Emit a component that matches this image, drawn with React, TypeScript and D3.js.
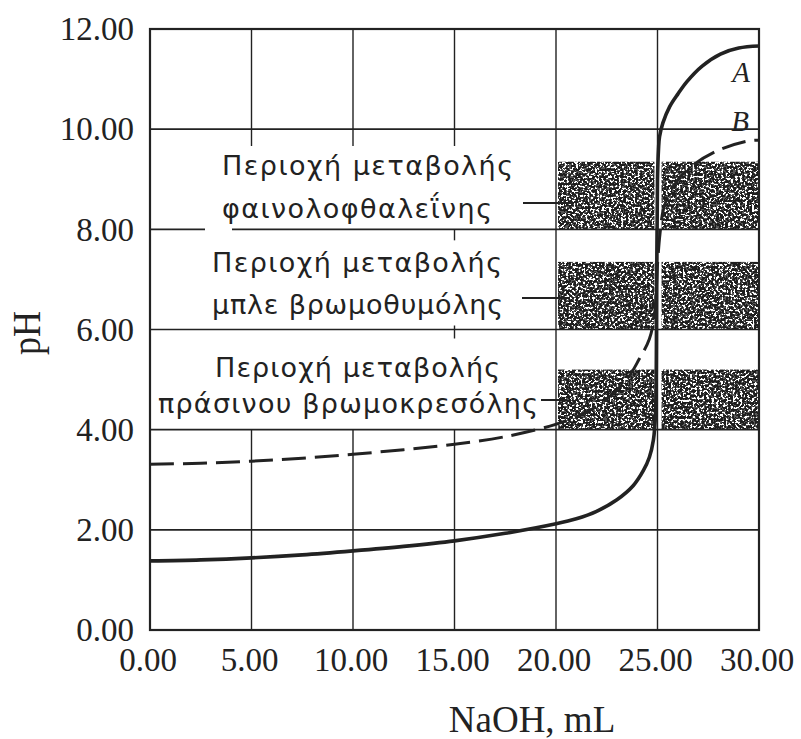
import React from "react";
import * as d3 from "d3";

// ---------- data ----------
const X_TICKS = [0, 5, 10, 15, 20, 25, 30];
const Y_TICKS = [0, 2, 4, 6, 8, 10, 12];

// Curve A (solid) – strong acid titration
const volumeA = [0, 2.5, 5, 7.5, 10, 12.5, 15, 17.5, 20, 21, 22, 23, 23.8, 24.3, 24.6, 24.8, 24.9, 24.96, 25.0, 25.05, 25.1, 25.27, 25.6, 26.0, 26.45, 27.2, 28.1, 29, 30];
const phA = [1.38, 1.4, 1.44, 1.5, 1.58, 1.67, 1.78, 1.93, 2.12, 2.22, 2.37, 2.6, 2.88, 3.18, 3.45, 3.8, 4.3, 7.0, 9.0, 9.6, 9.85, 10.13, 10.45, 10.7, 10.95, 11.26, 11.5, 11.62, 11.66];

// Curve B (dashed) – weak acid titration
const volumeB = [0, 2.5, 5, 7.5, 10, 12.5, 15, 17.5, 19.7, 20.3, 21.5, 22.3, 23.5, 24.1, 24.6, 24.85, 25.0, 25.12, 25.3, 25.7, 26.5, 27.9, 29.4, 30];
const phB = [3.31, 3.33, 3.37, 3.43, 3.51, 3.6, 3.71, 3.86, 4.07, 4.15, 4.35, 4.55, 5.01, 5.41, 5.81, 6.3, 7.3, 7.9, 8.41, 8.8, 9.2, 9.56, 9.76, 9.78];

const curveNames = ["A", "B"];

const regionPrefix = "Περιοχή μεταβολής";
const indicatorNames = ["φαινολοφθαλεΐνης", "μπλε βρωμοθυμόλης", "πράσινου βρωμοκρεσόλης"];
const indicatorLow = [8.0, 6.0, 4.0];
const indicatorHigh = [9.35, 7.35, 5.2];
// shaded columns (mL), split around the equivalence line
const shadeLeft = [20, 24.85];
const shadeRight = [25.2, 30];

const xTitle = "NaOH, mL";
const yTitle = "pH";

// ---------- layout ----------
const W = 801;
const H = 739;
const PLOT = { left: 150, right: 759, top: 29, bottom: 630 };
const INK = "#222";

const labelLayout = [
  { x1: 222, y1: 175, len1: 291, x2: 222, y2: 218, len2: 270, ly: 203, lx1: 523, lx2: 572 },
  { x1: 212, y1: 272, len1: 290, x2: 212, y2: 314, len2: 291, ly: 298, lx1: 522, lx2: 570 },
  { x1: 215, y1: 377, len1: 285, x2: 158, y2: 413, len2: 380, ly: 400, lx1: 541, lx2: 567 },
];
const curveLabelLayout = [
  { x: 741, y: 82 },
  { x: 740, y: 131 },
];

export default function App() {
  const x = d3.scaleLinear().domain([0, 30]).range([PLOT.left, PLOT.right]);
  const y = d3.scaleLinear().domain([0, 12]).range([PLOT.bottom, PLOT.top]);

  const line = d3
    .line<[number, number]>()
    .x((d) => x(d[0]))
    .y((d) => y(d[1]))
    .curve(d3.curveCatmullRom.alpha(0.5));

  const pathA = line(volumeA.map((v, i) => [v, phA[i]] as [number, number])) || "";
  const pathB = line(volumeB.map((v, i) => [v, phB[i]] as [number, number])) || "";

  const textTop = 146; // vertical grid hidden below this (text area)
  const maskedX = [5, 10, 15];

  return (
    <svg
      width={W}
      height={H}
      viewBox={`0 0 ${W} ${H}`}
      style={{ position: "absolute", left: 0, top: 0, background: "#fff" }}
    >
      <defs>
        <filter id="stip" x="0%" y="0%" width="100%" height="100%" colorInterpolationFilters="sRGB">
          <feTurbulence type="fractalNoise" baseFrequency="0.42" numOctaves={3} seed={11} result="noise" />
          <feColorMatrix
            in="noise"
            type="matrix"
            values="0 0 0 0 0  0 0 0 0 0  0 0 0 0 0  1 0 0 0 0"
            result="ra"
          />
          <feComponentTransfer in="ra" result="mask">
            <feFuncA type="discrete" tableValues="1 1 1 1 1 0.75 0 0 0 0" />
          </feComponentTransfer>
          <feComposite in="SourceGraphic" in2="mask" operator="in" />
        </filter>
      </defs>
      <rect x={0} y={0} width={W} height={H} fill="#fff" />

      {/* indicator shaded ranges */}
      {indicatorLow.map((lo, i) => (
        <g key={"sh" + i}>
          <rect
            x={x(shadeLeft[0]) + 2}
            y={y(indicatorHigh[i])}
            width={x(shadeLeft[1]) - x(shadeLeft[0]) - 2}
            height={y(lo) - y(indicatorHigh[i])}
            fill="#1e1e1e"
            filter="url(#stip)"
          />
          <rect
            x={x(shadeRight[0])}
            y={y(indicatorHigh[i])}
            width={x(shadeRight[1]) - x(shadeRight[0]) - 1}
            height={y(lo) - y(indicatorHigh[i])}
            fill="#1e1e1e"
            filter="url(#stip)"
          />
        </g>
      ))}

      {/* horizontal grid */}
      {Y_TICKS.filter((t) => t > 0 && t < 12).map((t) =>
        t === 8 ? (
          <g key={"h" + t}>
            <line x1={PLOT.left} x2={205} y1={y(t)} y2={y(t)} stroke={INK} strokeWidth={1.7} />
            <line x1={232} x2={PLOT.right} y1={y(t)} y2={y(t)} stroke={INK} strokeWidth={1.7} />
          </g>
        ) : (
          <line key={"h" + t} x1={PLOT.left} x2={PLOT.right} y1={y(t)} y2={y(t)} stroke={INK} strokeWidth={1.7} />
        )
      )}

      {/* vertical grid */}
      {X_TICKS.filter((t) => t > 0 && t < 30).map((t) =>
        maskedX.includes(t) ? (
          <g key={"v" + t}>
            <line x1={x(t)} x2={x(t)} y1={PLOT.top} y2={textTop} stroke={INK} strokeWidth={1.4} />
            <line x1={x(t)} x2={x(t)} y1={y(4)} y2={PLOT.bottom} stroke={INK} strokeWidth={1.4} />
          </g>
        ) : (
          <line key={"v" + t} x1={x(t)} x2={x(t)} y1={PLOT.top} y2={PLOT.bottom} stroke={INK} strokeWidth={1.4} />
        )
      )}
      <line x1={x(15)} x2={x(15)} y1={y(8)} y2={y(8) + 11} stroke={INK} strokeWidth={1.4} />
      <line x1={x(15)} x2={x(15)} y1={y(6) - 4} y2={y(6) + 9} stroke={INK} strokeWidth={1.4} />

      {/* frame */}
      <rect
        x={PLOT.left}
        y={PLOT.top}
        width={PLOT.right - PLOT.left}
        height={PLOT.bottom - PLOT.top}
        fill="none"
        stroke={INK}
        strokeWidth={2.2}
      />

      {/* curves */}
      <path d={pathB} fill="none" stroke={INK} strokeWidth={3} strokeDasharray="24 9" />
      <path d={pathA} fill="none" stroke={INK} strokeWidth={3.6} strokeLinejoin="round" />

      {/* curve labels */}
      {curveNames.map((n, i) => (
        <text
          key={n}
          x={curveLabelLayout[i].x}
          y={curveLabelLayout[i].y}
          textAnchor="middle"
          fontFamily="'Liberation Serif', serif"
          fontStyle="italic"
          fontSize={29}
          fill={INK}
        >
          {n}
        </text>
      ))}

      {/* indicator labels */}
      {indicatorNames.map((name, i) => {
        const L = labelLayout[i];
        return (
          <g key={"lab" + i} fontFamily="'DejaVu Sans', sans-serif" fontSize={27} fill={INK}>
            <text x={L.x1} y={L.y1} textLength={L.len1} lengthAdjust="spacing">
              {regionPrefix}
            </text>
            <text x={L.x2} y={L.y2} textLength={L.len2} lengthAdjust="spacing">
              {name}
            </text>
            <line x1={L.lx1} x2={L.lx2} y1={L.ly} y2={L.ly} stroke={INK} strokeWidth={2} />
          </g>
        );
      })}

      {/* y tick labels */}
      {Y_TICKS.map((t) => (
        <text
          key={"yt" + t}
          x={134}
          y={y(t)}
          dy="0.34em"
          textAnchor="end"
          fontFamily="'Liberation Serif', serif"
          fontSize={33}
          fill={INK}
        >
          {t.toFixed(2)}
        </text>
      ))}

      {/* x tick labels */}
      {X_TICKS.map((t) => (
        <text
          key={"xt" + t}
          x={x(t) - 2}
          y={671}
          textAnchor="middle"
          fontFamily="'Liberation Serif', serif"
          fontSize={33}
          fill={INK}
        >
          {t.toFixed(2)}
        </text>
      ))}

      {/* axis titles */}
      <text
        x={532}
        y={732}
        textAnchor="middle"
        fontFamily="'Liberation Serif', serif"
        fontSize={37}
        fill={INK}
      >
        {xTitle}
      </text>
      <text
        transform="translate(40,333) rotate(-90)"
        textAnchor="middle"
        fontFamily="'Liberation Serif', serif"
        fontSize={40}
        textLength={44}
        lengthAdjust="spacingAndGlyphs"
        fill={INK}
      >
        {yTitle}
      </text>
    </svg>
  );
}
